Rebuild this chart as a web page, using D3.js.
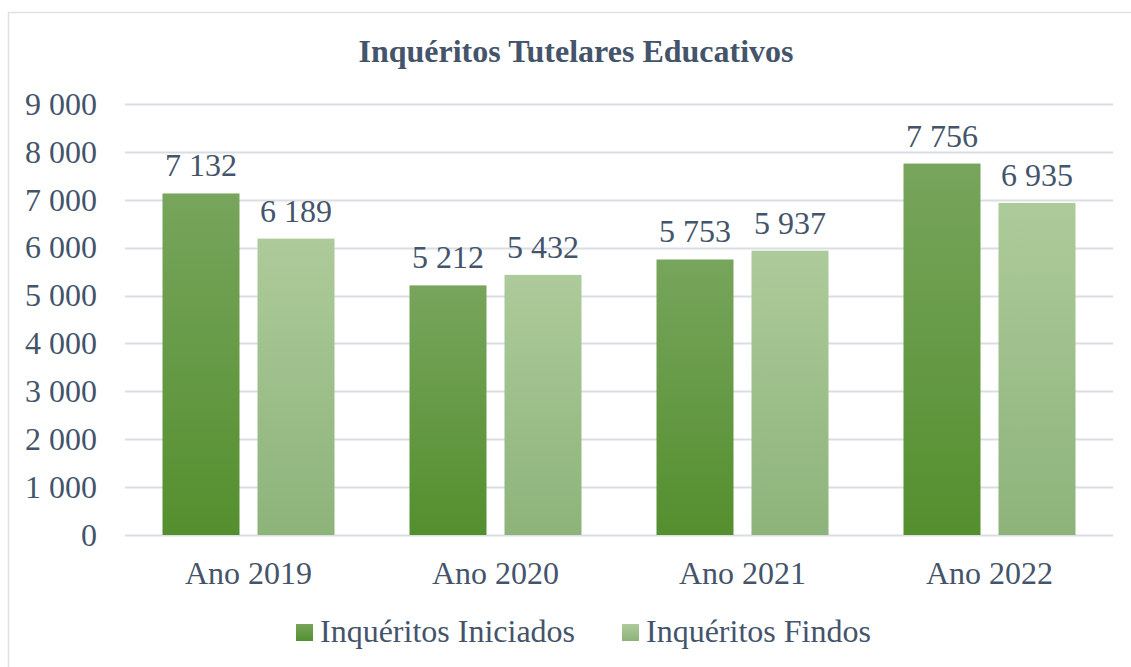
<!DOCTYPE html>
<html>
<head>
<meta charset="utf-8">
<script src="https://cdn.jsdelivr.net/npm/d3@7"></script>
<style>
  body { margin: 0; background: #fff; }
</style>
</head>
<body>
<div id="chart"></div>
<script>
// chart data
var years = ["Ano 2019", "Ano 2020", "Ano 2021", "Ano 2022"];
var seriesNames = ["Inquéritos Iniciados", "Inquéritos Findos"];
var iniciados = [7132, 5212, 5753, 7756];
var findos = [6189, 5432, 5937, 6935];
var yTicks = [0, 1000, 2000, 3000, 4000, 5000, 6000, 7000, 8000, 9000];

var FONT = "'Liberation Serif', Tinos, 'Times New Roman', Times, serif";
var TXT = "#44546a";

var W = 1131, H = 667;
var margin = { top: 104, right: 18, bottom: 132, left: 125 };
var width = W - margin.left - margin.right,
  height = H - margin.top - margin.bottom;

var svg = d3.select("#chart").append("svg")
  .attr("width", W)
  .attr("height", H)
  .style("font-family", FONT);

// outer frame
svg.append("rect")
  .attr("x", 8.5).attr("y", 12.5)
  .attr("width", W + 10).attr("height", H + 10)
  .attr("fill", "none")
  .attr("stroke", "#dde2e9")
  .attr("stroke-width", 1.5);

// gradients
var defs = svg.append("defs");
function grad(id, top, bottom) {
  var g = defs.append("linearGradient").attr("id", id)
    .attr("x1", 0).attr("y1", 0).attr("x2", 0).attr("y2", 1);
  g.append("stop").attr("offset", "0%").attr("stop-color", top);
  g.append("stop").attr("offset", "100%").attr("stop-color", bottom);
}
grad("g0", "#77a55c", "#548f2e");
grad("g1", "#adcb9a", "#8db37a");
var fills = ["url(#g0)", "url(#g1)"];

var g = svg.append("g")
  .attr("transform", "translate(" + margin.left + "," + margin.top + ")");

// scales
var x0 = d3.scaleBand().domain(years).range([0, width]).padding(0);
var y = d3.scaleLinear().domain([0, 9000]).range([height, 0]);
var fmt = function (d) { return d3.format(",")(d).replace(/,/g, " "); };

// gridlines
g.selectAll(".grid").data(yTicks).join("line")
  .attr("class", "grid")
  .attr("x1", 0).attr("x2", width)
  .attr("y1", function (d) { return Math.round(y(d)) + 0.5; })
  .attr("y2", function (d) { return Math.round(y(d)) + 0.5; })
  .attr("stroke", "#d9dee5")
  .attr("stroke-width", 2);

// y axis labels
var yAxis = d3.axisLeft(y).tickValues(yTicks).tickFormat(fmt).tickSize(0).tickPadding(28);
g.append("g").call(yAxis)
  .attr("font-family", null)
  .call(function (a) { a.select(".domain").remove(); })
  .selectAll("text")
  .style("font-family", FONT)
  .style("font-size", "32px")
  .attr("fill", TXT);

// x axis labels
var xAxis = d3.axisBottom(x0).tickSize(0).tickPadding(26);
g.append("g").attr("transform", "translate(0," + height + ")").call(xAxis)
  .attr("font-family", null)
  .call(function (a) { a.select(".domain").remove(); })
  .selectAll("text")
  .style("font-family", FONT)
  .style("font-size", "32px")
  .attr("fill", TXT);

// bars
var barW = 77, gap = 18;
var data = years.map(function (yr, i) {
  return { year: yr, values: [iniciados[i], findos[i]] };
});

var groups = g.selectAll(".grp").data(data).join("g")
  .attr("class", "grp")
  .attr("transform", function (d) {
    return "translate(" + (x0(d.year) + x0.bandwidth() / 2) + ",0)";
  });

groups.selectAll("rect").data(function (d) { return d.values; }).join("rect")
  .attr("x", function (d, i) { return i === 0 ? -gap / 2 - barW : gap / 2; })
  .attr("width", barW)
  .attr("y", function (d) { return y(d); })
  .attr("height", function (d) { return height - y(d); })
  .attr("fill", function (d, i) { return fills[i]; });

groups.selectAll(".lbl").data(function (d) { return d.values; }).join("text")
  .attr("class", "lbl")
  .attr("x", function (d, i) { return i === 0 ? -gap / 2 - barW / 2 : gap / 2 + barW / 2; })
  .attr("y", function (d) { return y(d) - 17; })
  .attr("text-anchor", "middle")
  .style("font-family", FONT)
  .style("font-size", "32px")
  .attr("fill", TXT)
  .text(fmt);

// title
svg.append("text")
  .attr("x", 576).attr("y", 62)
  .attr("text-anchor", "middle")
  .style("font-family", FONT)
  .style("font-size", "32px")
  .style("font-weight", "bold")
  .attr("fill", TXT)
  .text("Inquéritos Tutelares Educativos");

// legend
var legend = svg.append("g").attr("transform", "translate(296,642)");
var lx = [0, 326];
seriesNames.forEach(function (name, i) {
  var it = legend.append("g").attr("transform", "translate(" + lx[i] + ",0)");
  it.append("rect").attr("x", 0).attr("y", -18).attr("width", 17).attr("height", 17)
    .attr("fill", fills[i]);
  it.append("text").attr("x", 24).attr("y", 0)
    .style("font-family", FONT)
    .style("font-size", "32px")
    .attr("fill", TXT)
    .text(name);
});
</script>
</body>
</html>
